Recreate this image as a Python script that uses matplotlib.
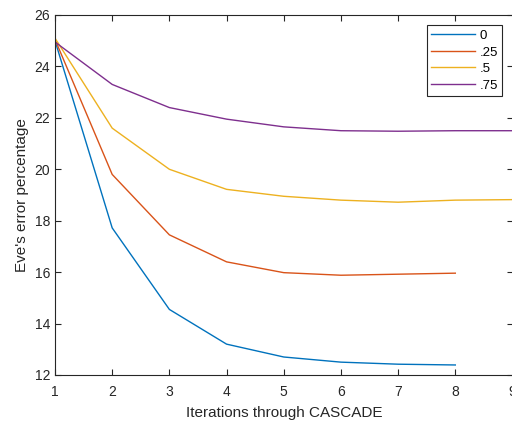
import matplotlib
matplotlib.use("Agg")
import matplotlib.pyplot as plt

plt.rcParams['font.family'] = ['Liberation Sans', 'DejaVu Sans']

iters = [1, 2, 3, 4, 5, 6, 7, 8, 9]
err_0 = [25.0, 17.72, 14.55, 13.2, 12.7, 12.5, 12.42, 12.39]
err_25 = [25.05, 19.8, 17.45, 16.4, 15.98, 15.88, 15.92, 15.96]
err_5 = [25.1, 21.6, 20.0, 19.22, 18.95, 18.8, 18.72, 18.8, 18.82]
err_75 = [24.95, 23.3, 22.4, 21.95, 21.65, 21.5, 21.48, 21.5, 21.5]
labels = ['0', '.25', '.5', '.75']

colors = ['#0072BD', '#D95319', '#EDB120', '#7E2F8E']

fig = plt.figure(figsize=(5.12, 4.21), dpi=100)
ax = fig.add_axes([55/512, 46/421, 457.5/512, 360/421])

for ys, c, lab in zip([err_0, err_25, err_5, err_75], colors, labels):
    ax.plot(iters[:len(ys)], ys, color=c, lw=1.0, label=lab)

ax.set_xlim(1, 9)
ax.set_ylim(12, 26)
ax.set_xticks(range(1, 10))
ax.set_yticks(range(12, 27, 2))
ax.tick_params(direction='in', top=True, right=True, labelsize=10, colors='#262626', length=4)
ax.tick_params(axis='x', pad=7)
for s in ax.spines.values():
    s.set_color('#262626')
ax.set_xlabel('Iterations through CASCADE', fontsize=11, color='#262626', labelpad=5)
ax.set_ylabel("Eve's error percentage", fontsize=11, color='#262626')

leg = ax.legend(loc='upper right', bbox_to_anchor=(0.978, 0.972), fontsize=9.5, fancybox=False,
                edgecolor='#262626', framealpha=1, handlelength=3.3, borderpad=0.35,
                labelspacing=0.33, handletextpad=0.35, borderaxespad=0)
leg.get_frame().set_linewidth(0.8)

fig.savefig('out.png', dpi=100)
